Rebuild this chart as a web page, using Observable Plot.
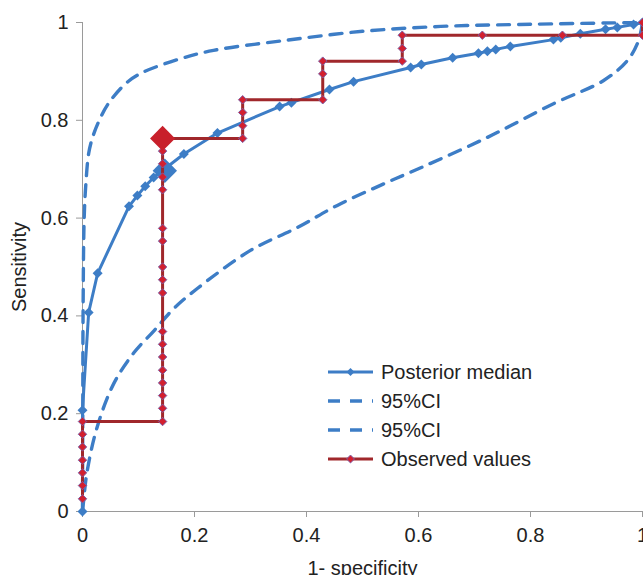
<!DOCTYPE html>
<html><head><meta charset="utf-8">
<script src="https://cdn.jsdelivr.net/npm/d3@7"></script>
<script src="https://cdn.jsdelivr.net/npm/@observablehq/plot@0.6"></script>
<style>
html,body{margin:0;padding:0;background:#fff;}
#chart{position:relative;width:643px;height:575px;overflow:hidden;font-family:"Liberation Sans",Arial,sans-serif;}
#legend{position:absolute;left:0;top:0;pointer-events:none;}
</style></head><body><div id="chart"></div>
<script>
// ---- data ----
const xTicks = [0, 0.2, 0.4, 0.6, 0.8, 1];
const yTicks = [0, 0.2, 0.4, 0.6, 0.8, 1];
const xTitle = "1- specificity";
const yTitle = "Sensitivity";
const legendLabels = ["Posterior median", "95%CI", "95%CI", "Observed values"];

// posterior median SROC curve
const medianX = [0, 0, 0.011, 0.027, 0.083, 0.098, 0.112, 0.127, 0.181, 0.241, 0.352, 0.373, 0.441, 0.484, 0.586, 0.605, 0.661, 0.707, 0.723, 0.738, 0.764, 0.841, 0.854, 0.889, 0.934, 0.955, 0.984, 1];
const medianY = [0, 0.207, 0.407, 0.487, 0.624, 0.646, 0.665, 0.683, 0.731, 0.774, 0.828, 0.836, 0.863, 0.879, 0.908, 0.914, 0.928, 0.937, 0.941, 0.945, 0.951, 0.965, 0.969, 0.977, 0.986, 0.990, 0.996, 1];

// 95% credible band, upper and lower
const ciUpperX = [0, 0.0005, 0.001, 0.003, 0.006, 0.011, 0.018, 0.03, 0.046, 0.077, 0.104, 0.175, 0.234, 0.36, 0.5, 0.64, 0.78, 1];
const ciUpperY = [0, 0.2, 0.4, 0.6, 0.67, 0.732, 0.765, 0.80, 0.834, 0.875, 0.896, 0.926, 0.943, 0.963, 0.982, 0.992, 0.996, 1];
const ciLowerX = [0, 0.002, 0.008, 0.026, 0.056, 0.092, 0.128, 0.163, 0.205, 0.30, 0.384, 0.455, 0.532, 0.604, 0.723, 0.841, 0.93, 0.973, 0.993, 1];
const ciLowerY = [0, 0.022, 0.08, 0.172, 0.262, 0.325, 0.37, 0.415, 0.456, 0.534, 0.581, 0.626, 0.667, 0.703, 0.765, 0.834, 0.881, 0.922, 0.963, 1];

// observed (empirical) ROC steps
const obsX = [0, 0, 0, 0, 0, 0, 0,
  0.143, 0.143, 0.143, 0.143, 0.143, 0.143, 0.143, 0.143, 0.143, 0.143, 0.143, 0.143, 0.143, 0.143, 0.143, 0.143, 0.143, 0.143,
  0.286, 0.286, 0.286, 0.286,
  0.429, 0.429, 0.429,
  0.571, 0.571, 0.571,
  0.714, 0.857, 1, 1];
const obsY = [0.026, 0.053, 0.079, 0.105, 0.132, 0.158, 0.184,
  0.184, 0.211, 0.237, 0.263, 0.289, 0.316, 0.342, 0.368, 0.447, 0.474, 0.500, 0.553, 0.579, 0.658, 0.684, 0.711, 0.737, 0.763,
  0.763, 0.789, 0.816, 0.842,
  0.842, 0.895, 0.921,
  0.921, 0.947, 0.974,
  0.974, 0.974, 0.974, 1];

// summary points
const summaryMedian = {x: 0.147, y: 0.697};
const summaryObserved = {x: 0.143, y: 0.763};

// ---- styling ----
const BLUE = "#3D7DC6";
const RED_LINE = "#A0272B";
const RED_MARK = "#D2202F";
const MARK_EDGE = "#7E5FA6";
const AXIS = "#9a9a9a";
const FONT = "'Liberation Sans', Arial, sans-serif";

const zip = (xs, ys) => xs.map((x, i) => ({x, y: ys[i]}));
const median = zip(medianX, medianY);
const ciUpper = zip(ciUpperX, ciUpperY);
const ciLower = zip(ciLowerX, ciLowerY);
const observed = zip(obsX, obsY);
const fmt = d => String(+d.toFixed(1));

const plot = Plot.plot({
  width: 643, height: 575,
  marginLeft: 82, marginRight: 1, marginTop: 22, marginBottom: 64,
  x: {domain: [0, 1]},
  y: {domain: [0, 1]},
  style: {fontFamily: FONT, fontSize: "20px", color: "#222", background: "#fff", overflow: "visible"},
  marks: [
    Plot.ruleX([0], {stroke: AXIS, strokeWidth: 1}),
    Plot.ruleY([0], {stroke: AXIS, strokeWidth: 1}),
    Plot.axisX({ticks: xTicks, tickSize: 6, tickPadding: 10, tickFormat: fmt, stroke: AXIS, fill: "#222",
      label: xTitle, labelAnchor: "center", labelArrow: "none", labelOffset: 63}),
    Plot.axisY({ticks: yTicks, tickSize: 6, tickPadding: 8, tickFormat: fmt, stroke: AXIS, fill: "#222",
      label: yTitle, labelAnchor: "center", labelArrow: "none", labelOffset: 71}),
    Plot.line(ciUpper, {x: "x", y: "y", stroke: BLUE, strokeWidth: 3.4, strokeDasharray: "12,9", curve: "catmull-rom"}),
    Plot.line(ciLower, {x: "x", y: "y", stroke: BLUE, strokeWidth: 3.4, strokeDasharray: "12,9", curve: "catmull-rom"}),
    Plot.line(median, {x: "x", y: "y", stroke: BLUE, strokeWidth: 3}),
    Plot.dot(median, {x: "x", y: "y", symbol: "diamond2", r: 4.5, fill: BLUE, stroke: "none"}),
    Plot.dot([summaryMedian], {x: "x", y: "y", symbol: "diamond2", r: 11, fill: BLUE, stroke: "none"}),
    Plot.line(observed, {x: "x", y: "y", stroke: RED_LINE, strokeWidth: 3}),
    Plot.dot(observed, {x: "x", y: "y", symbol: "diamond2", r: 3.8, fill: RED_MARK, stroke: MARK_EDGE, strokeWidth: 1}),
    Plot.dot([summaryObserved], {x: "x", y: "y", symbol: "diamond2", r: 11.3, fill: "#C8202B", stroke: "none"})
  ]
});
const chart = document.getElementById("chart");
chart.appendChild(plot);

// ---- legend (inside plot area) ----
const legendStyles = [
  {stroke: BLUE, dash: null, marker: BLUE, edge: "none"},
  {stroke: BLUE, dash: "12,10", marker: null},
  {stroke: BLUE, dash: "12,10", marker: null},
  {stroke: RED_LINE, dash: null, marker: RED_MARK, edge: MARK_EDGE}
];
const lg = d3.select(chart).append("svg").attr("id", "legend")
  .attr("width", 643).attr("height", 575)
  .style("font-family", FONT).style("font-size", "20px");
const rowY = [372, 401, 430, 459];
legendLabels.forEach((label, i) => {
  const s = legendStyles[i];
  const g = lg.append("g").attr("transform", `translate(328,${rowY[i]})`);
  g.append("line").attr("x1", 0).attr("x2", 45).attr("y1", 0).attr("y2", 0)
    .attr("stroke", s.stroke).attr("stroke-width", s.dash ? 3.4 : 3)
    .attr("stroke-dasharray", s.dash);
  if (s.marker) {
    g.append("path").attr("d", d3.symbol(d3.symbolDiamond2, 40)())
      .attr("transform", "translate(22.5,0)")
      .attr("fill", s.marker).attr("stroke", s.edge).attr("stroke-width", 1);
  }
  g.append("text").attr("x", 53).attr("y", 0).attr("dy", "0.35em")
    .attr("fill", "#222").text(label);
});
</script>
</body></html>
